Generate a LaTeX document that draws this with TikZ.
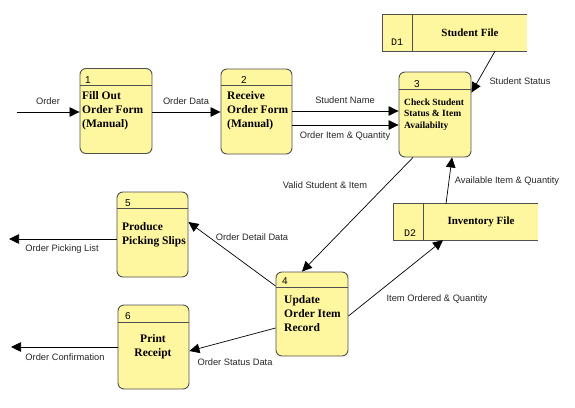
\documentclass[tikz,border=0pt]{standalone}
\usepackage{fontspec}
\setmainfont{Liberation Serif}
\setsansfont{Liberation Sans}
\setmonofont{Liberation Mono}
\usetikzlibrary{arrows.meta}
\definecolor{boxfill}{HTML}{FFF6A0}
\definecolor{boxline}{HTML}{505050}
\tikzset{
 proc/.style={draw=boxline, fill=boxfill, rounded corners=6pt, line width=0.9pt, inner sep=0pt},
 store/.style={fill=boxfill, inner sep=0pt, minimum height=36pt},
 sline/.style={draw=boxline, line width=0.9pt},
 ptext/.style={font=\bfseries\fontsize{11.5}{14}\selectfont, align=left, inner sep=0pt, anchor=west},
 stext/.style={font=\bfseries\fontsize{11}{13}\selectfont, inner sep=0pt},
 dtext/.style={font=\ttfamily\fontsize{10}{12}\selectfont, inner sep=0pt},
 num/.style={font=\sffamily\fontsize{10}{12}\selectfont, inner sep=0pt},
 flow/.style={draw=black, line width=0.7pt, -{Triangle[length=10pt,width=9.5pt]}},
 lbl/.style={font=\sffamily\fontsize{9.3}{11}\selectfont, text=black!85, inner sep=0pt},
}
\begin{document}
\begin{tikzpicture}[x=1pt,y=-1pt]
\useasboundingbox (0,0) rectangle (575,407);
% processes
\node[proc, minimum width=72pt, minimum height=85pt] (p1) at (116,111) {};
\node[proc, minimum width=71pt, minimum height=85pt] (p2) at (256.5,111.5) {};
\node[proc, minimum width=72pt, minimum height=85pt] (p3) at (435,114.5) {};
\node[proc, minimum width=72pt, minimum height=84pt] (p4) at (312,314) {};
\node[proc, minimum width=71pt, minimum height=85pt] (p5) at (152.5,234.5) {};
\node[proc, minimum width=71pt, minimum height=84pt] (p6) at (153.5,347) {};
\draw[sline] (p1.west |- 0,85) -- (p1.east |- 0,85);
\draw[sline] (p2.west |- 0,85) -- (p2.east |- 0,85);
\draw[sline] (p3.west |- 0,89) -- (p3.east |- 0,89);
\draw[sline] (p4.west |- 0,287) -- (p4.east |- 0,287);
\draw[sline] (p5.west |- 0,208) -- (p5.east |- 0,208);
\draw[sline] (p6.west |- 0,322) -- (p6.east |- 0,322);
\node[num] (n1) at (88,80) {1};
\node[num] (n2) at (244,80) {2};
\node[num] (n3) at (417,84) {3};
\node[num] (n4) at (285,281) {4};
\node[num] (n5) at (128,203) {5};
\node[num] (n6) at (128,316) {6};
\node[ptext] (t1) at (82,111) {Fill Out\\Order Form\\(Manual)};
\node[ptext] (t2) at (227,111) {Receive\\Order Form\\(Manual)};
\node[ptext, font=\bfseries\fontsize{9.5}{11.5}\selectfont] (t3) at (404,114.5) {Check Student\\Status \& Item\\Availabilty};
\node[ptext] (t4) at (284,314) {Update\\Order Item\\Record};
\node[ptext] (t5) at (122,234.5) {Produce\\Picking Slips};
\node[ptext, align=center, anchor=center] (t6) at (153,347) {Print\\Receipt};
% data stores
\node[store, minimum width=144pt] (d1) at (455,33) {};
\draw[sline] (d1.north east) -- (d1.north west) -- (d1.south west) -- (d1.south east);
\draw[sline] (412,15) -- (412,51);
\node[dtext] (d1n) at (397,42) {D1};
\node[stext] (d1t) at (470,33) {Student File};
\node[store, minimum width=144pt] (d2) at (466,222) {};
\draw[sline] (d2.north east) -- (d2.north west) -- (d2.south west) -- (d2.south east);
\draw[sline] (423,204) -- (423,240);
\node[dtext] (d2n) at (410,233) {D2};
\node[stext] (d2t) at (481,222) {Inventory File};
% flows
\coordinate (src) at (17,112);
\coordinate (pick) at (9,239);
\coordinate (conf) at (11,347);
\draw[flow] (src) -- (src -| p1.west);
\draw[flow] (p1.east |- 0,112) -- (p2.west |- 0,112);
\draw[flow] (p2.east |- 0,111) -- (p3.west |- 0,111);
\draw[flow] (p2.east |- 0,125) -- (p3.west |- 0,125);
\draw[flow] (d1.south -| 495,0) -- ([yshift=-21pt]p3.north east);
\draw[flow] (d2.north -| 446,0) -- (p3.south -| 452,0);
\draw[flow] (p3.south -| 413,0) -- (p4.north -| 302,0);
\draw[flow] (p4.east |- 0,316) -- (d2.south -| 443,0);
\draw[flow] (p4.west |- 0,286) -- (p5.east |- 0,222);
\draw[flow] (p4.west |- 0,328) -- (p6.east |- 0,351);
\draw[flow] (p5.west |- pick) -- (pick);
\draw[flow] (p6.west |- conf) -- (conf);
% labels
\node[lbl] (l1) at (48,101) {Order};
\node[lbl] (l2) at (186,101) {Order Data};
\node[lbl] (l3) at (345,100) {Student Name};
\node[lbl] (l4) at (345,136) {Order Item \& Quantity};
\node[lbl] (l5) at (520,81) {Student Status};
\node[lbl] (l6) at (325,185) {Valid Student \& Item};
\node[lbl] (l7) at (507,181) {Available Item \& Quantity};
\node[lbl] (l8) at (437,299) {Item Ordered \& Quantity};
\node[lbl] (l9) at (252,237) {Order Detail Data};
\node[lbl] (l10) at (235,362) {Order Status Data};
\node[lbl] (l11) at (62,249) {Order Picking List};
\node[lbl] (l12) at (65,357) {Order Confirmation};
\end{tikzpicture}
\end{document}
